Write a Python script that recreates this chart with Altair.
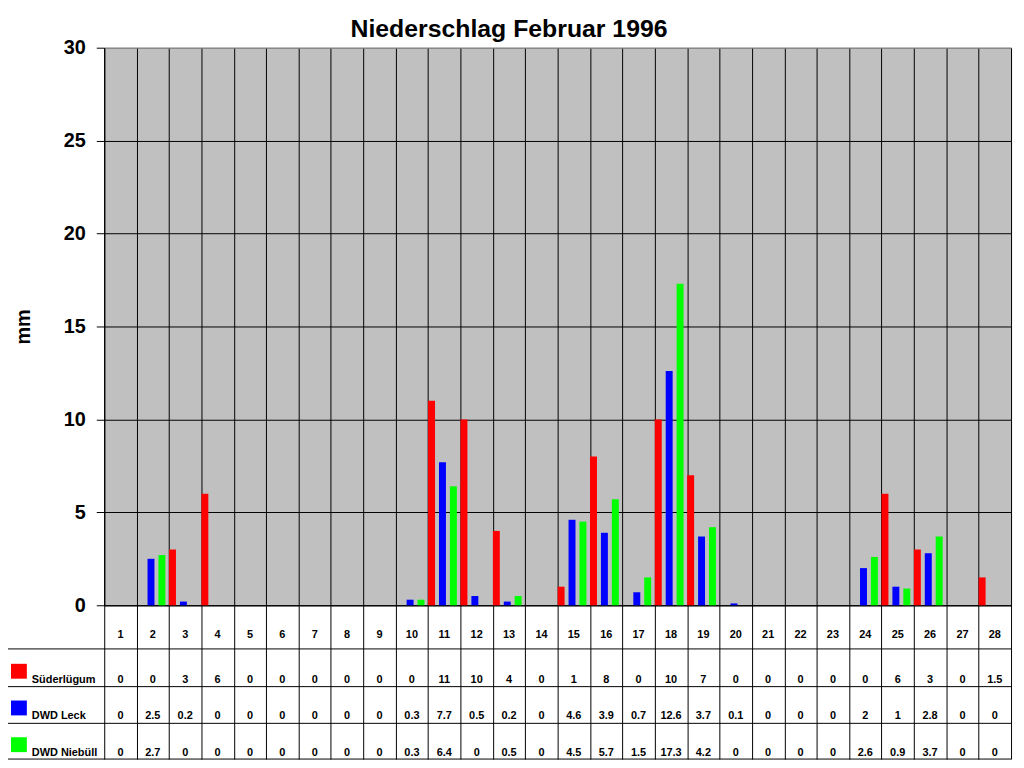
import altair as alt
import pandas as pd

# Tage und Messreihen (Niederschlag in mm)
days = list(range(1, 29))
stations = ["Süderlügum", "DWD Leck", "DWD Niebüll"]
station_colors = ["#FF0000", "#0000FF", "#00FF00"]
y_ticks = [0, 5, 10, 15, 20, 25, 30]

suederluegum = [0, 0, 3, 6, 0, 0, 0, 0, 0, 0, 11, 10, 4, 0, 1, 8, 0, 10, 7, 0, 0, 0, 0, 0, 6, 3, 0, 1.5]
dwd_leck = [0, 2.5, 0.2, 0, 0, 0, 0, 0, 0, 0.3, 7.7, 0.5, 0.2, 0, 4.6, 3.9, 0.7, 12.6, 3.7, 0.1, 0, 0, 0, 2, 1, 2.8, 0, 0]
dwd_niebuell = [0, 2.7, 0, 0, 0, 0, 0, 0, 0, 0.3, 6.4, 0, 0.5, 0, 4.5, 5.7, 1.5, 17.3, 4.2, 0, 0, 0, 0, 2.6, 0.9, 3.7, 0, 0]

title_text = "Niederschlag Februar 1996"

# Tabelle im Langformat
rows = []
for name, values in zip(stations, [suederluegum, dwd_leck, dwd_niebuell]):
    for d, v in zip(days, values):
        rows.append({"Tag": d, "Station": name, "mm": v, "Wert": f"{v:g}"})
df = pd.DataFrame(rows)
df_days = pd.DataFrame({"Tag": days, "Label": [str(d) for d in days]})

W, H = 914, 562
FONT = "Liberation Sans"

x_enc = alt.X(
    "Tag:O",
    scale=alt.Scale(domain=days, paddingInner=0, paddingOuter=0),
    axis=alt.Axis(
        title=None, labels=False, grid=True, gridColor="black", gridOpacity=1,
        tickBand="extent", ticks=True, tickSize=155, tickColor="black",
        domainColor="black",
    ),
)

bars = alt.Chart(df).mark_bar().encode(
    x=x_enc,
    xOffset=alt.XOffset(
        "Station:N",
        scale=alt.Scale(domain=stations, paddingInner=4 / 11, paddingOuter=0.166, align=0),
    ),
    y=alt.Y(
        "mm:Q",
        scale=alt.Scale(domain=[0, 30], nice=False),
        axis=alt.Axis(
            values=y_ticks, title="mm", grid=True,
            gridColor={"condition": {"test": "datum.value == 30", "value": "#808080"}, "value": "black"},
            gridOpacity=1, domainColor="black", tickColor="black", tickSize=8,
            labelPadding=11, labelFontSize=20, labelFontWeight="bold", labelColor="black",
            titleFontSize=20, titleFontWeight="bold", titleColor="black",
            titleX=-81, titleY=H / 2, titleAngle=-90, titleAlign="center", titleBaseline="middle",
        ),
    ),
    color=alt.Color("Station:N", scale=alt.Scale(domain=stations, range=station_colors), legend=None),
)

# Kopfzeile der Tabelle (Tage)
day_labels = alt.Chart(df_days).mark_text(
    fontSize=11, fontWeight="bold", color="black", baseline="middle"
).encode(x=x_enc, y=alt.value(592), text="Label:N")

dummy = pd.DataFrame({"_": [0]})


def hline(y, x1=-99, x2=W):
    return alt.Chart(dummy).mark_rule(color="black", strokeWidth=1).encode(
        x=alt.value(x1), x2=alt.value(x2), y=alt.value(y)
    )


layers = [bars, day_labels]

# Tabellenzeilen mit Legendenfeld
row_y = [637, 674, 711]
for name, col, ry in zip(stations, station_colors, row_y):
    vals = alt.Chart(df).transform_filter(alt.datum.Station == name).mark_text(
        fontSize=11, fontWeight="bold", color="black", baseline="middle"
    ).encode(x=x_enc, y=alt.value(ry), text="Wert:N")
    key = alt.Chart(dummy).mark_rect(color=col).encode(
        x=alt.value(-94), x2=alt.value(-78), y=alt.value(ry - 16), y2=alt.value(ry - 1)
    )
    lab = alt.Chart(pd.DataFrame({"t": [name]})).mark_text(
        fontSize=11, fontWeight="bold", color="black", align="left", baseline="middle"
    ).encode(x=alt.value(-73), y=alt.value(ry), text="t:N")
    layers += [vals, key, lab]

for y in [606, 644, 681, 717]:
    layers.append(hline(y))
layers.append(
    alt.Chart(dummy).mark_rule(color="black").encode(
        x=alt.value(-99), y=alt.value(606), y2=alt.value(717)
    )
)

title = alt.Chart(pd.DataFrame({"t": [title_text]})).mark_text(
    fontSize=25, fontWeight="bold", color="black", baseline="middle"
).encode(x=alt.value(408), y=alt.value(-19), text="t:N")
layers.append(title)

chart = alt.layer(*layers).properties(
    width=W, height=H,
    autosize=alt.AutoSizeParams(type="none"),
    padding={"left": 97, "top": 37, "right": 5, "bottom": 161},
).configure(font=FONT).configure_view(fill="#C0C0C0", stroke="#808080", strokeWidth=1)

chart.save("out.html", embed_options={"renderer": "svg", "actions": False})
